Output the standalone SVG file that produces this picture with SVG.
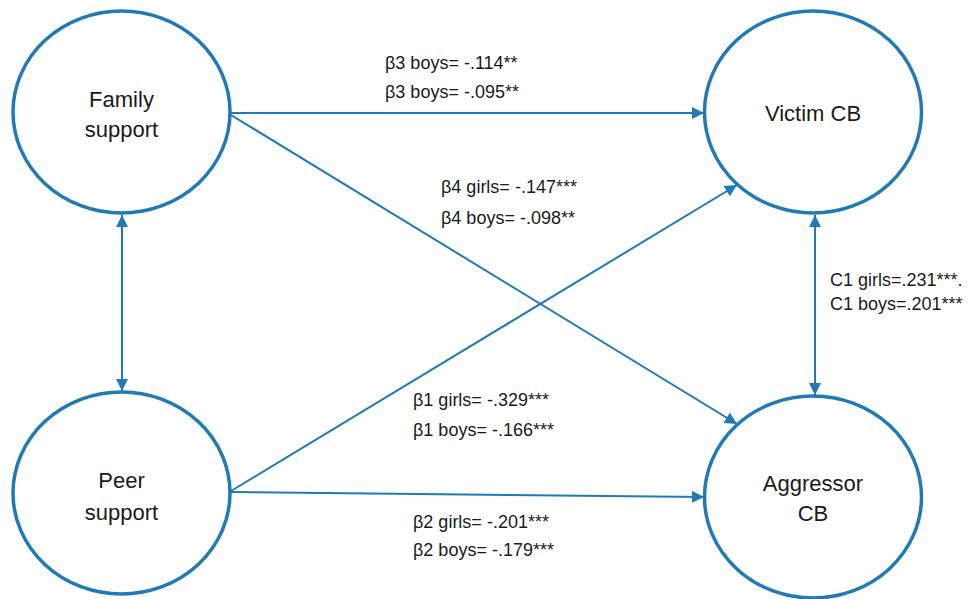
<svg xmlns="http://www.w3.org/2000/svg" width="979" height="599" viewBox="0 0 979 599">
<style>
.node{fill:#fff;stroke:#1f7ab5;stroke-width:3.5}
.lbl{font-family:"Liberation Sans",Arial,sans-serif;font-size:22px;fill:#1a1a1a;text-anchor:middle}
.coef{font-family:"Liberation Sans",Arial,sans-serif;font-size:18px;fill:#1a1a1a}
.edge{stroke:#1f7ab5;stroke-width:2;fill:none}
</style>
<defs>
<marker id="ah" markerUnits="userSpaceOnUse" markerWidth="14" markerHeight="12" refX="12" refY="6" orient="auto-start-reverse">
<path d="M0,0 L12,6 L0,12 Z" fill="#1f7ab5"/>
</marker>
</defs>
<rect width="979" height="599" fill="#fff"/>
<g id="connectors">
<line class="edge" x1="231" y1="113" x2="704" y2="113" marker-end="url(#ah)"/>
<line class="edge" x1="231" y1="115" x2="737" y2="424" marker-end="url(#ah)"/>
<line class="edge" x1="231" y1="491" x2="737" y2="185" marker-end="url(#ah)"/>
<line class="edge" x1="231" y1="492" x2="704" y2="497" marker-end="url(#ah)"/>
<line class="edge" x1="122" y1="215" x2="122" y2="391" marker-start="url(#ah)" marker-end="url(#ah)"/>
<line class="edge" x1="815" y1="215" x2="815" y2="395" marker-start="url(#ah)" marker-end="url(#ah)"/>
</g>
<g id="family">
<ellipse class="node" cx="121.5" cy="112" rx="108.5" ry="101"/>
<text class="lbl" x="121.5" y="107">Family</text>
<text class="lbl" x="121.5" y="137">support</text>
</g>
<g id="victim">
<ellipse class="node" cx="813" cy="112" rx="108.5" ry="101"/>
<text class="lbl" x="813" y="121">Victim CB</text>
</g>
<g id="peer">
<ellipse class="node" cx="121.5" cy="493" rx="108.5" ry="101"/>
<text class="lbl" x="121.5" y="488">Peer</text>
<text class="lbl" x="121.5" y="520">support</text>
</g>
<g id="aggressor">
<ellipse class="node" cx="813" cy="497" rx="108.5" ry="101"/>
<text class="lbl" x="813" y="491">Aggressor</text>
<text class="lbl" x="813" y="521">CB</text>
</g>
<g id="labels">
<text class="coef" x="385" y="69">β3 boys= -.114**</text>
<text class="coef" x="385" y="98">β3 boys= -.095**</text>
<text class="coef" x="441" y="193">β4 girls= -.147***</text>
<text class="coef" x="441" y="224">β4 boys= -.098**</text>
<text class="coef" x="413" y="406">β1 girls= -.329***</text>
<text class="coef" x="413" y="436">β1 boys= -.166***</text>
<text class="coef" x="413" y="528">β2 girls= -.201***</text>
<text class="coef" x="413" y="556">β2 boys= -.179***</text>
<text class="coef" x="830" y="286">C1 girls=.231***.</text>
<text class="coef" x="830" y="310">C1 boys=.201***</text>
</g>
</svg>
